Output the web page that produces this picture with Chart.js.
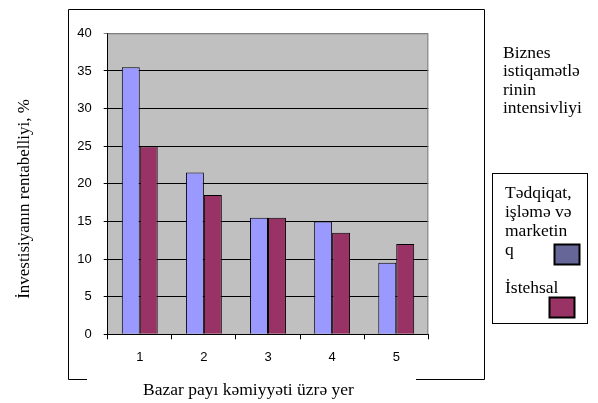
<!DOCTYPE html>
<html>
<head>
<meta charset="utf-8">
<script src="https://cdn.jsdelivr.net/npm/chart.js@4/dist/chart.umd.min.js"></script>
<style>
  html, body { margin: 0; padding: 0; background: #fff; }
  #wrap { width: 598px; height: 403px; }
</style>
</head>
<body>
<div id="wrap"><canvas id="chart"></canvas></div>
<script>
// market share place categories
const places = ['1', '2', '3', '4', '5'];
// return on investment, %
const researchValues = [35.5, 21.5, 15.5, 15.0, 9.5];
const productionValues = [25.0, 18.5, 15.5, 13.5, 12.0];
const seriesLabels = [['Tədqiqat,', 'işləmə və', 'marketin', 'q'], ['İstehsal']];
const legendTitle = ['Biznes', 'istiqamətlə', 'rinin', 'intensivliyi'];
const yTitle = 'İnvestisiyanın rentabelliyi, %';
const xTitle = 'Bazar payı kəmiyyəti üzrə yer';

const serif = '"Liberation Serif", "Times New Roman", serif';
const sans = '"Liberation Sans", Arial, sans-serif';

// frame, plot background, titles and the legend box
const decor = {
  id: 'decor',
  beforeDraw(chart) {
    const {ctx, chartArea: a} = chart;
    ctx.save();
    ctx.fillStyle = '#fff';
    ctx.fillRect(0, 0, chart.width, chart.height);
    ctx.fillStyle = '#c0c0c0';
    ctx.fillRect(a.left, a.top, a.right - a.left, a.bottom - a.top);

    // outer frame, open at the bottom for the x title
    ctx.strokeStyle = '#000';
    ctx.lineWidth = 1;
    ctx.beginPath();
    ctx.moveTo(87, 379.5);
    ctx.lineTo(68.5, 379.5);
    ctx.lineTo(68.5, 9.5);
    ctx.lineTo(484.5, 9.5);
    ctx.lineTo(484.5, 379.5);
    ctx.lineTo(416, 379.5);
    ctx.stroke();
    ctx.restore();
  },
  beforeDatasetsDraw(chart) {
    const {ctx, chartArea: a} = chart;
    ctx.save();
    ctx.strokeStyle = '#808080';
    ctx.lineWidth = 1;
    ctx.beginPath();
    ctx.moveTo(a.left, a.top + 0.5);
    ctx.lineTo(a.right - 0.5, a.top + 0.5);
    ctx.lineTo(a.right - 0.5, a.bottom);
    ctx.stroke();
    ctx.restore();
  },
  afterDraw(chart) {
    const {ctx} = chart;
    ctx.save();
    ctx.fillStyle = '#000';
    ctx.textBaseline = 'middle';

    // y title
    ctx.save();
    ctx.translate(25, 199);
    ctx.rotate(-Math.PI / 2);
    ctx.textAlign = 'center';
    ctx.font = '17px ' + serif;
    ctx.fillText(yTitle, 0, 0);
    ctx.restore();

    // x title
    ctx.font = '17.5px ' + serif;
    ctx.textAlign = 'left';
    ctx.fillText(xTitle, 143, 390);

    // legend title
    ctx.font = '17.5px ' + serif;
    legendTitle.forEach((t, i) => ctx.fillText(t, 503, 53 + i * 18.5));

    // legend box
    ctx.strokeStyle = '#000';
    ctx.lineWidth = 1;
    ctx.strokeRect(492.5, 173.5, 95, 150);

    seriesLabels[0].forEach((t, i) => ctx.fillText(t, 505, 193 + i * 19));
    seriesLabels[1].forEach((t, i) => ctx.fillText(t, 505, 288 + i * 19));

    const swatches = [
      {x: 554.5, y: 244.5, color: '#666699'},
      {x: 549.5, y: 297.5, color: '#993366'}
    ];
    swatches.forEach(s => {
      ctx.fillStyle = s.color;
      ctx.fillRect(s.x, s.y, 25, 20);
      ctx.lineWidth = 2;
      ctx.strokeStyle = '#000';
      ctx.strokeRect(s.x, s.y, 25, 20);
    });
    ctx.restore();
  }
};

new Chart(document.getElementById('chart'), {
  type: 'bar',
  data: {
    labels: places,
    datasets: [
      {
        label: seriesLabels[0].join(' '),
        data: researchValues,
        backgroundColor: '#9999ff',
        borderColor: '#000',
        borderWidth: 1,
        borderSkipped: 'bottom'
      },
      {
        label: seriesLabels[1].join(' '),
        data: productionValues,
        backgroundColor: '#993366',
        borderColor: '#000',
        borderWidth: 1,
        borderSkipped: 'bottom'
      }
    ]
  },
  options: {
    responsive: true,
    maintainAspectRatio: false,
    animation: false,
    layout: { padding: { top: 33.3, right: 169.7, left: 0, bottom: 0 } },
    datasets: { bar: { categoryPercentage: 0.56, barPercentage: 1.0 } },
    plugins: {
      legend: { display: false },
      tooltip: { enabled: false }
    },
    scales: {
      x: {
        offset: true,
        grid: {
          offset: true,
          drawOnChartArea: false,
          drawTicks: true,
          tickLength: 5,
          color: '#000'
        },
        border: { color: '#000' },
        ticks: {
          color: '#000',
          padding: 10,
          font: { family: sans, size: 13 }
        },
        afterFit(scale) { scale.height = 68.7; }
      },
      y: {
        min: 0,
        max: 40,
        ticks: {
          stepSize: 5,
          color: '#000',
          padding: 12,
          font: { family: sans, size: 13 }
        },
        grid: {
          tickLength: 4,
          color: ctx => ctx.tick && ctx.tick.value === 40 ? '#808080' : '#000'
        },
        border: { color: '#000' },
        afterFit(scale) { scale.width = 107.7; }
      }
    }
  },
  plugins: [decor]
});
</script>
</body>
</html>
